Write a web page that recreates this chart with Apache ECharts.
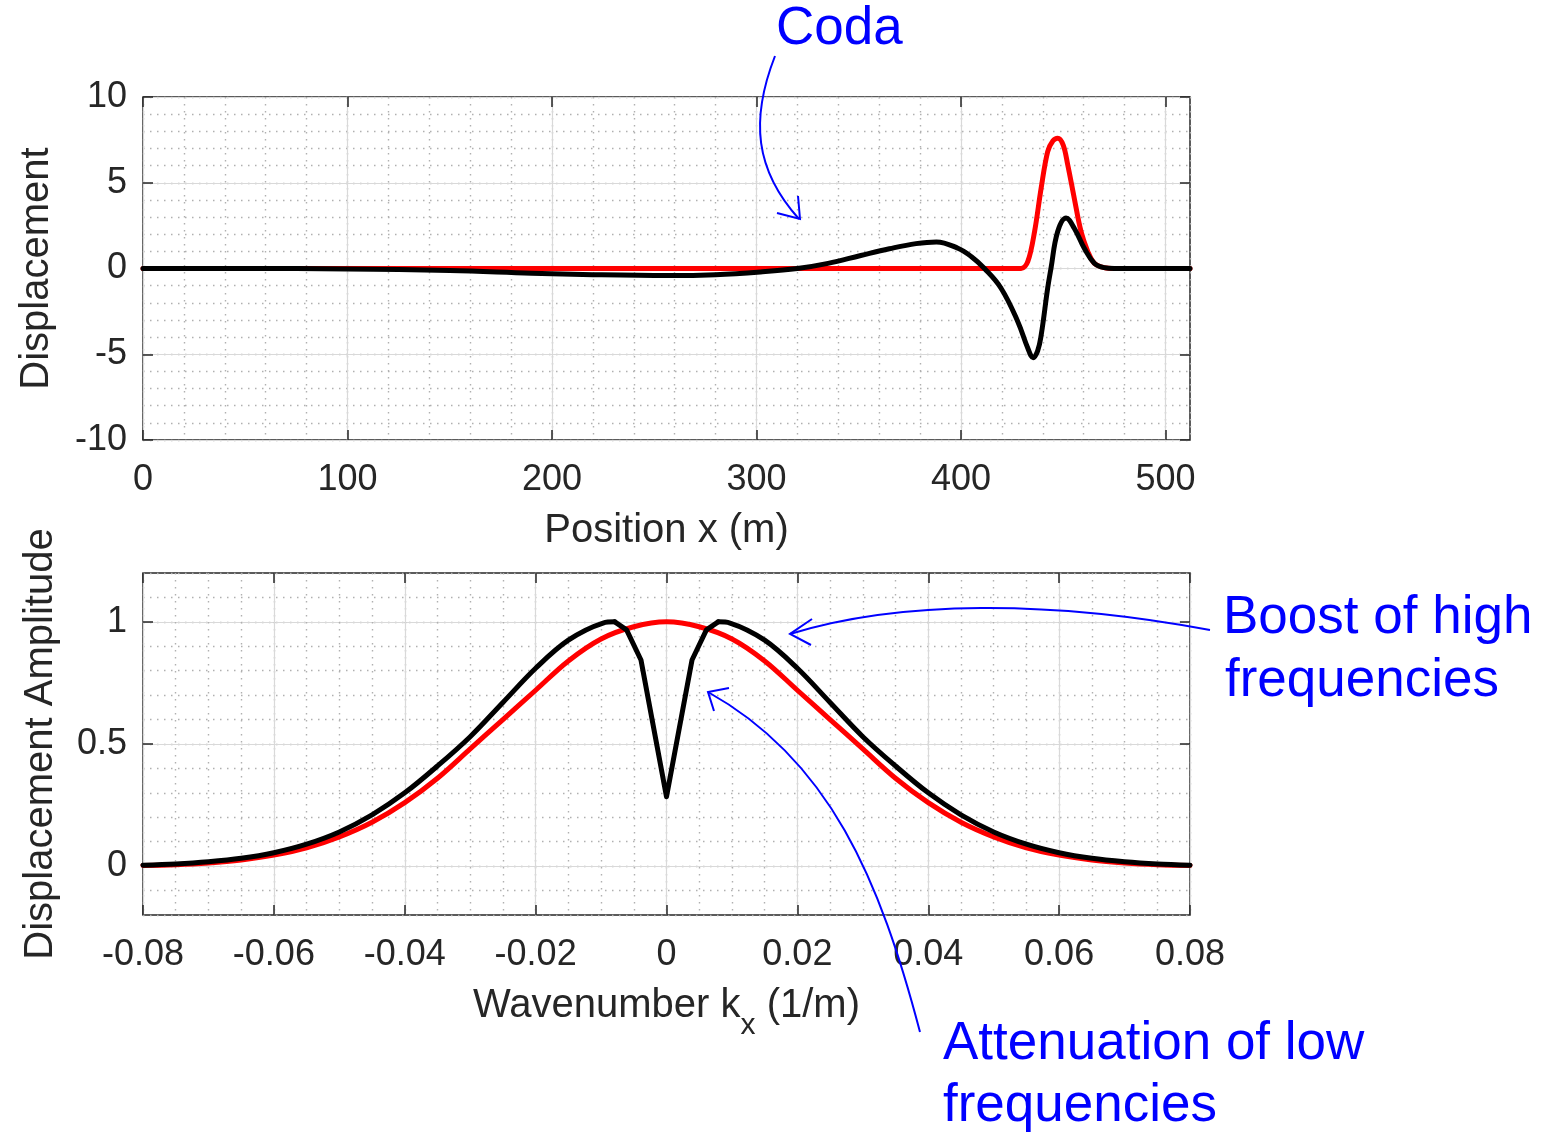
<!DOCTYPE html>
<html>
<head>
<meta charset="utf-8">
<script src="https://cdn.jsdelivr.net/npm/echarts@6.0.0/dist/echarts.min.js"></script>
<style>
  html, body { margin: 0; padding: 0; background: #fff; }
  #chart { width: 1546px; height: 1138px; }
</style>
</head>
<body>
<div id="chart"></div>
<script>
// ---- top panel: displacement vs position (m)
const posTicks = [0, 100, 200, 300, 400, 500];
const dispTicks = [-10, -5, 0, 5, 10];
const redPosX = [0, 100, 200, 300, 400, 425, 429.4, 432.7, 436, 439.2, 442.4, 445, 447.3, 450, 452.2, 455.4, 458.7, 462, 465.2, 470, 475, 512];
const redDisp = [0, 0, 0, 0, 0, 0, 0, 0.41, 2.16, 4.68, 6.82, 7.45, 7.6, 7.2, 6.05, 4.1, 2.16, 1.0, 0.31, 0.05, 0, 0];
const blackPosX = [0, 50, 100, 150, 190, 220, 257, 280, 302, 320, 335, 351, 365, 378, 388, 398.5, 405, 411.5, 419.6, 427.8, 432.7, 435.3, 437.5, 439.2, 442.4, 444, 447.3, 451.4, 455.4, 460.3, 465.2, 470, 475, 512];
const blackDisp = [0, 0, -0.03, -0.12, -0.27, -0.36, -0.41, -0.36, -0.2, 0, 0.3, 0.76, 1.15, 1.45, 1.55, 1.18, 0.7, 0, -1.15, -3.1, -4.65, -5.2, -4.8, -3.9, -1.15, 0, 2.16, 2.95, 2.35, 1.18, 0.31, 0.05, 0, 0];

// ---- bottom panel: amplitude vs wavenumber (1/m)
const kTicks = [-0.08, -0.06, -0.04, -0.02, 0, 0.02, 0.04, 0.06, 0.08];
const ampTicks = [0, 0.5, 1];
const redK = [-0.08, -0.075, -0.07, -0.065, -0.06, -0.055, -0.05, -0.045, -0.04, -0.035, -0.03, -0.025, -0.02, -0.015, -0.01, -0.005, 0,
  0.005, 0.01, 0.015, 0.02, 0.025, 0.03, 0.035, 0.04, 0.045, 0.05, 0.055, 0.06, 0.065, 0.07, 0.075, 0.08];
const redAmp = [0.003, 0.006, 0.013, 0.025, 0.045, 0.075, 0.12, 0.18, 0.26, 0.36, 0.48, 0.6, 0.72, 0.84, 0.93, 0.98, 1.0,
  0.98, 0.93, 0.84, 0.72, 0.6, 0.48, 0.36, 0.26, 0.18, 0.12, 0.075, 0.045, 0.025, 0.013, 0.006, 0.003];
const blackK = [-0.08, -0.075, -0.07, -0.065, -0.06, -0.055, -0.05, -0.045, -0.04, -0.035, -0.03, -0.025, -0.02, -0.015, -0.0097, -0.0079, -0.0061, -0.0039, 0,
  0.0039, 0.0061, 0.0079, 0.0097, 0.015, 0.02, 0.025, 0.03, 0.035, 0.04, 0.045, 0.05, 0.055, 0.06, 0.065, 0.07, 0.075, 0.08];
const blackAmp = [0.004, 0.009, 0.018, 0.032, 0.055, 0.09, 0.14, 0.21, 0.30, 0.41, 0.53, 0.67, 0.81, 0.925, 0.995, 1.0, 0.967, 0.844, 0.284,
  0.844, 0.967, 1.0, 0.995, 0.925, 0.81, 0.67, 0.53, 0.41, 0.30, 0.21, 0.14, 0.09, 0.055, 0.032, 0.018, 0.009, 0.004];

const FONT = "'Liberation Sans', Arial, Helvetica, sans-serif";
const INK = '#262626';
const BLUE = '#0000ff';

const zip = (xs, ys) => xs.map((x, i) => [x, ys[i]]);
const blackPts = zip(blackK, blackAmp);
// the notch is sampled coarsely (straight segments), the flanks are smooth
const notchFrom = blackK.indexOf(-0.0079), notchTo = blackK.indexOf(0.0079);

function mainAxis(grid, pos, min, max, ticks, name, nameGap) {
  return {
    type: 'value', gridIndex: grid, position: pos, min: min, max: max,
    name: name, nameLocation: 'middle', nameGap: nameGap,
    nameTextStyle: { fontSize: 40, color: INK, fontFamily: FONT },
    axisLine: { show: false, onZero: false },
    axisTick: { show: true, inside: true, length: 10, customValues: ticks, lineStyle: { color: INK, width: 1.5 } },
    axisLabel: { customValues: ticks, fontSize: 36, color: INK, fontFamily: FONT, margin: pos === 'bottom' ? 22 : 16 },
    splitLine: { show: true, lineStyle: { color: '#d9d9d9', width: 1.2 } }
  };
}
function tickAxis(grid, pos, min, max, ticks) {
  return {
    type: 'value', gridIndex: grid, position: pos, min: min, max: max,
    axisLine: { show: false, onZero: false },
    axisTick: { show: true, inside: true, length: 10, customValues: ticks, lineStyle: { color: INK, width: 1.5 } },
    axisLabel: { show: false },
    splitLine: { show: false }
  };
}
function minorAxis(grid, pos, min, max, step) {
  return {
    type: 'value', gridIndex: grid, position: pos, min: min, max: max, interval: step,
    axisLine: { show: false, onZero: false }, axisTick: { show: false }, axisLabel: { show: false },
    splitLine: { show: true, lineStyle: { color: '#b0b0b0', width: 1.4, type: [1.5, 5.5] } }
  };
}
function curve(xi, yi, data, color, smooth, z) {
  return { type: 'line', xAxisIndex: xi, yAxisIndex: yi, data: data, showSymbol: false, smooth: smooth,
    lineStyle: { color: color, width: 5, join: 'round', cap: 'round' }, z: z };
}
function arrow(p0, c1, c2, p3) {
  return { type: 'bezierCurve', z: 100,
    shape: { x1: p0[0], y1: p0[1], cpx1: c1[0], cpy1: c1[1], cpx2: c2[0], cpy2: c2[1], x2: p3[0], y2: p3[1] },
    style: { stroke: BLUE, lineWidth: 2, fill: null } };
}
function head(pts) {
  return { type: 'polyline', z: 100, shape: { points: pts }, style: { stroke: BLUE, lineWidth: 2, fill: null } };
}
function label(text, x, y) {
  return { type: 'text', z: 100, style: { text: text, x: x, y: y, fill: BLUE, fontSize: 53, fontFamily: FONT, verticalAlign: 'middle' } };
}

const chart = echarts.init(document.getElementById('chart'));
chart.setOption({
  backgroundColor: '#fff',
  animation: false,
  grid: [
    { left: 143, top: 97, width: 1047, height: 343, show: true, borderColor: INK, borderWidth: 1.5 },
    { left: 143, top: 573, width: 1047, height: 342, show: true, borderColor: INK, borderWidth: 1.5 }
  ],
  xAxis: [
    minorAxis(0, 'bottom', 0, 512, 20),
    mainAxis(0, 'bottom', 0, 512, posTicks, 'Position x (m)', 71),
    tickAxis(0, 'top', 0, 512, posTicks),
    minorAxis(1, 'bottom', -0.08, 0.08, 0.005),
    Object.assign(mainAxis(1, 'bottom', -0.08, 0.08, kTicks, 'Wavenumber k{sub|x} (1/m)', 56), {
      nameTextStyle: { fontSize: 40, color: INK, fontFamily: FONT,
        rich: { sub: { fontSize: 30, color: INK, fontFamily: FONT, verticalAlign: 'bottom', padding: [40, 0, 0, 0] } } }
    }),
    tickAxis(1, 'top', -0.08, 0.08, kTicks)
  ],
  yAxis: [
    minorAxis(0, 'left', -10, 10, 1),
    mainAxis(0, 'left', -10, 10, dispTicks, 'Displacement', 86),
    tickAxis(0, 'right', -10, 10, dispTicks),
    minorAxis(1, 'left', -0.2, 1.2, 0.1),
    mainAxis(1, 'left', -0.2, 1.2, ampTicks, 'Displacement Amplitude', 82),
    tickAxis(1, 'right', -0.2, 1.2, ampTicks)
  ],
  series: [
    curve(1, 1, zip(redPosX, redDisp), '#ff0000', 0.35, 3),
    curve(1, 1, zip(blackPosX, blackDisp), '#000', 0.4, 4),
    curve(4, 4, zip(redK, redAmp), '#ff0000', 0.35, 3),
    curve(4, 4, blackPts.slice(0, notchFrom + 1), '#000', 0.35, 4),
    curve(4, 4, blackPts.slice(notchFrom, notchTo + 1), '#000', false, 4),
    curve(4, 4, blackPts.slice(notchTo), '#000', 0.35, 4)
  ],
  // blue annotations
  graphic: [
    label('Coda', 776, 29),
    label('Boost of high', 1223, 618),
    label('frequencies', 1225, 681),
    label('Attenuation of low', 943, 1044),
    label('frequencies', 943, 1106),
    arrow([775, 56], [750, 120], [755, 170], [799, 219]),
    head([[798, 196], [800, 219], [777, 213]]),
    arrow([1210, 630], [1050, 600], [900, 600], [790, 634]),
    head([[812, 619], [790, 634], [811, 645]]),
    arrow([920, 1032], [880, 880], [830, 760], [708, 692]),
    head([[729, 688], [708, 692], [714, 711]])
  ]
});
</script>
</body>
</html>
